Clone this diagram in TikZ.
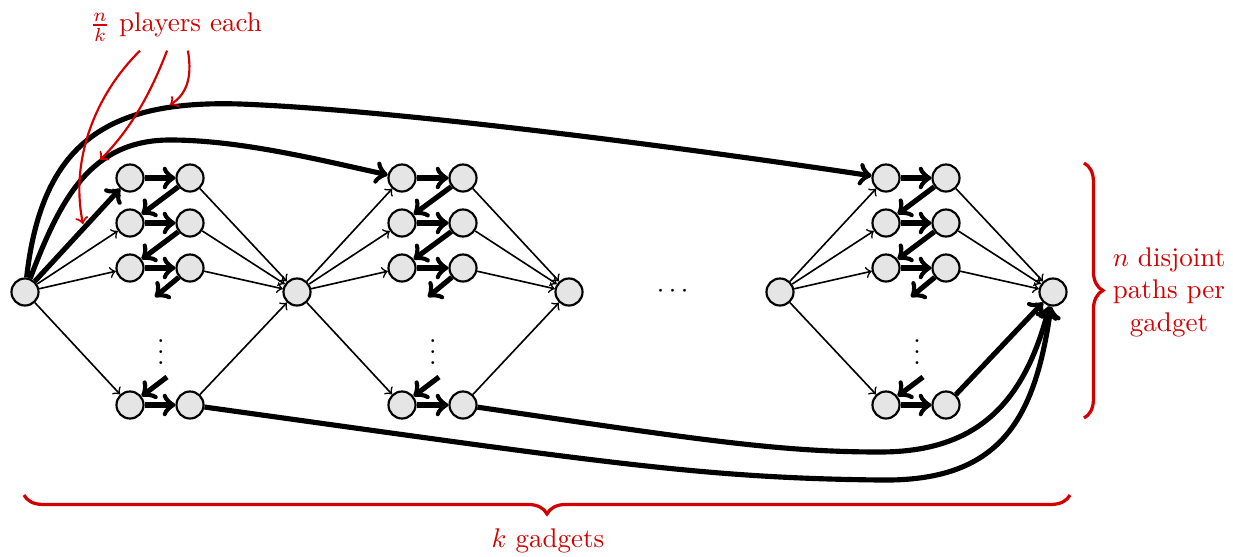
\documentclass[tikz,border=0pt]{standalone}
\usepackage{color}
\usepackage{amsmath}
\usepackage{amsfonts}
\usepackage{tikz}
\usetikzlibrary{decorations.pathreplacing}
\definecolor{notered}{RGB}{210,0,0}

\begin{document}
\begin{tikzpicture}[x=0.37pt,y=0.37pt,yscale=-1,xscale=1,
  vert/.style={circle,draw,thick,fill=gray!20,minimum size=10pt,inner sep=0pt},
  thinarr/.style={->,semithick},
  flow/.style={->,line width=1.9pt},
  notearr/.style={->,thick,color=notered},
  notebrace/.style={very thick,color=notered,decorate,decoration={brace,amplitude=7pt}}]
\useasboundingbox (0,0) rectangle (1233,556);

%Shape: Sources and sinks [id:s]
\node[vert] (s0) at (25,292) {};
\node[vert] (s1) at (297,292) {};
\node[vert] (s2) at (569,292) {};
\node[vert] (s3) at (780,292) {};
\node[vert] (s4) at (1053,292) {};

%Shape: Gadgets [id:g]
\foreach \g/\lx/\rx/\src/\snk in {1/130/190/s0/s1, 2/402/463/s1/s2, 3/886/946/s3/s4} {
  \foreach \i/\yy in {1/178,2/223,3/268,4/405} {
    \node[vert] (l\g\i) at (\lx,\yy) {};
    \node[vert] (r\g\i) at (\rx,\yy) {};
    \draw[thinarr] (\src) -- (l\g\i);
    \draw[thinarr] (r\g\i) -- (\snk);
    \draw[flow] (l\g\i) -- (r\g\i);
  }
  \draw[flow] (r\g1) -- (l\g2);
  \draw[flow] (r\g2) -- (l\g3);
  \coordinate (u\g) at ({\rx-35},297);
  \draw[flow] (r\g3) -- (u\g);
  \coordinate (v\g) at ({\lx+37},377);
  \draw[flow] (v\g) -- (l\g4);
  \node (d\g) at ({\lx+31},344) {$\vdots$};
}

% Text Node
\node (dots) at (675,291) {$\cdots$};

%Shape: Long paths [id:p]
\draw[flow] (s0) -- (l11);
\draw[flow] (s0) .. controls (60,200) and (90,140) .. (170,140) .. controls (240,140) and (320,160) .. (l21);
\draw[flow] (s0) .. controls (42,140) and (110,100) .. (240,104) .. controls (400,110) and (700,150) .. (l31);
\draw[flow] (r14) .. controls (600,462) and (700,478) .. (880,480) .. controls (1000,482) and (1035,420) .. (s4);
\draw[flow] (r24) .. controls (700,440) and (780,452) .. (880,452) .. controls (980,452) and (1025,400) .. (s4);
\draw[flow] (r34) -- (s4);

% Text Node
\draw (176,27) node (players) [color=notered] {$\frac{n}{k}$ players each};
\coordinate (qa) at (83,224);
\coordinate (qb) at (100,160);
\coordinate (qc) at (170,105);
\draw[notearr] ([xshift=-13.3pt]players.south) .. controls (95,95) and (70,160) .. (qa);
\draw[notearr] ([xshift=-3.3pt]players.south) .. controls (150,95) and (130,130) .. (qb);
\draw[notearr] ([xshift=4.4pt]players.south) .. controls (193,80) and (185,95) .. (qc);

%Shape: Braces [id:b]
\coordinate (bt) at (1084,163);
\coordinate (bb) at (1084,418);
\draw[notebrace] (bt) -- (bb);
\draw (1169,292) node (disj) [color=notered,align=center] {$n$ disjoint\\paths per\\gadget};
\coordinate (bl) at (24,495);
\coordinate (br) at (1070,495);
\draw[notebrace] (br) -- (bl);
\draw (548,541) node (kgad) [color=notered] {$k$ gadgets};

\end{tikzpicture}
\end{document}
